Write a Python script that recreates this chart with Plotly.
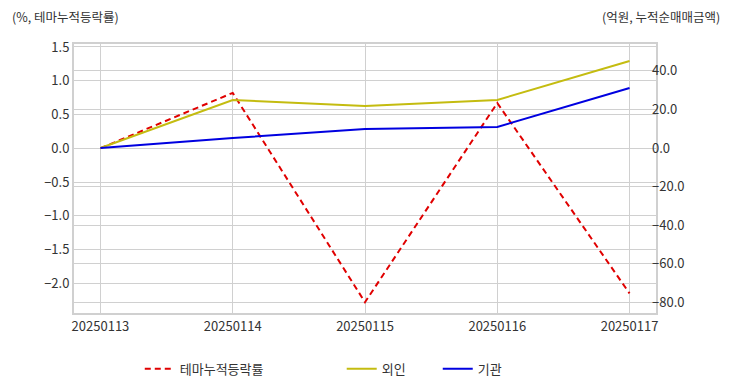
import plotly.graph_objects as go

dates = ["20250113", "20250114", "20250115", "20250116", "20250117"]
theme_rate = [0.0, 0.82, -2.28, 0.67, -2.15]
foreign = [0.0, 24.9, 21.8, 24.9, 45.1]
institution = [0.0, 5.2, 9.8, 10.9, 31.1]

FONT = "Noto Sans CJK KR"
GRID = "#d0d0d0"
TXT = "#333333"

fig = go.Figure()
fig.add_trace(go.Scatter(x=dates, y=theme_rate, name="테마누적등락률", mode="lines",
                         line=dict(color="#e00000", width=2, dash="6px,4px"), yaxis="y",
                         legend="legend"))
fig.add_trace(go.Scatter(x=dates, y=foreign, name="외인", mode="lines",
                         line=dict(color="#c4bc10", width=2), yaxis="y2",
                         legend="legend2"))
fig.add_trace(go.Scatter(x=dates, y=institution, name="기관", mode="lines",
                         line=dict(color="#0000e0", width=2), yaxis="y2",
                         legend="legend3"))

leg_common = dict(orientation="h", yref="container", y=0.059, yanchor="middle",
                  xanchor="left", font=dict(size=13, color=TXT),
                  bgcolor="rgba(0,0,0,0)")

fig.update_layout(
    width=732, height=392,
    margin=dict(l=74, r=76, t=44, b=79, autoexpand=False),
    paper_bgcolor="white", plot_bgcolor="white",
    font=dict(family=FONT, size=13, color=TXT),
    xaxis=dict(type="category", range=[-0.2, 4.2], showgrid=True, gridcolor=GRID,
               showline=True, linecolor=GRID, linewidth=2, mirror=True,
               ticks="", tickfont=dict(size=13, color=TXT)),
    yaxis=dict(range=[-2.44, 1.544], tickvals=[1.5, 1.0, 0.5, 0.0, -0.5, -1.0, -1.5, -2.0],
               tickformat=".1f", showgrid=True, gridcolor=GRID, zeroline=False,
               showline=True, linecolor=GRID, linewidth=2, mirror=True,
               tickfont=dict(size=13, color=TXT)),
    yaxis2=dict(range=[-85.5, 53.9], tickvals=[40, 20, 0, -20, -40, -60, -80],
                tickformat=".1f", overlaying="y", side="right", showgrid=True,
                gridcolor=GRID, zeroline=False, ticklabelstandoff=-5,
                tickfont=dict(size=13, color=TXT)),
    legend=dict(x=0.113, **leg_common),
    legend2=dict(x=0.46, **leg_common),
    legend3=dict(x=0.625, **leg_common),
    showlegend=True,
    annotations=[
        dict(text="(%, 테마누적등락률)", xref="paper", yref="paper", x=-0.11, y=1.104,
             xanchor="left", yanchor="middle", showarrow=False,
             font=dict(size=12.5, color=TXT)),
        dict(text="(억원, 누적순매매금액)", xref="paper", yref="paper", x=1.113, y=1.104,
             xanchor="right", yanchor="middle", showarrow=False,
             font=dict(size=12.5, color=TXT)),
    ],
)

fig.write_html("out.html", config={"displayModeBar": False},
               post_script="document.body.style.margin='0';")
